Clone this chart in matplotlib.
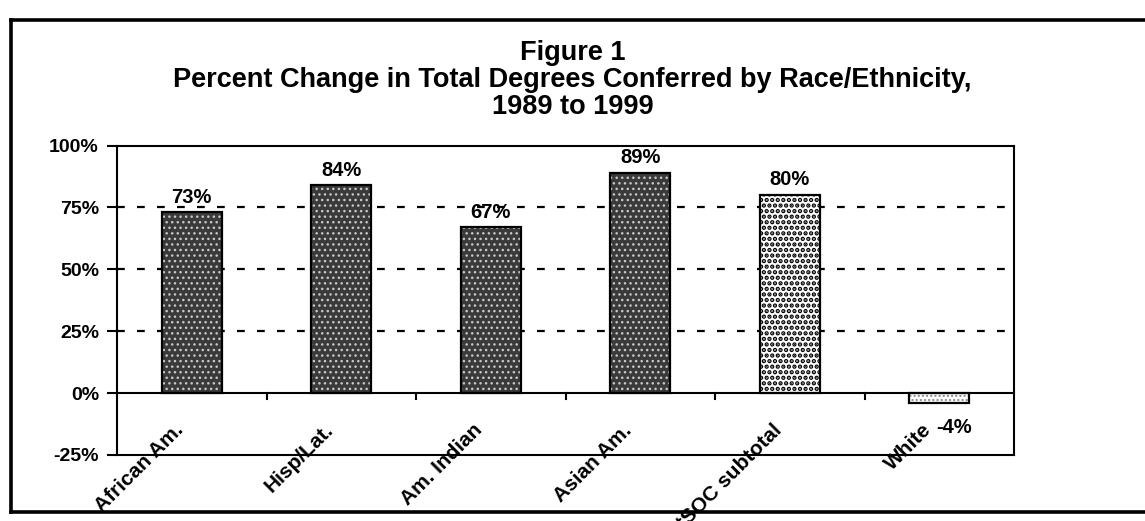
import numpy as np
import matplotlib
matplotlib.use("Agg")
import matplotlib.pyplot as plt
from matplotlib.lines import Line2D

plt.rcParams['font.family'] = ['Liberation Sans', 'DejaVu Sans']
plt.rcParams['font.weight'] = 'bold'
plt.rcParams['hatch.linewidth'] = 1.0

# ---- data ----
categories = ["African Am.", "Hisp/Lat.", "Am. Indian", "Asian Am.", "tSOC subtotal", "White"]
pct_change = [73, 84, 67, 89, 80, -4]
value_labels = ["73%", "84%", "67%", "89%", "80%", "-4%"]
y_ticks = [-25, 0, 25, 50, 75, 100]
y_tick_labels = ["-25%", "0%", "25%", "50%", "75%", "100%"]

# bar styles: face colour, dot colour, dot density, dot line width
bar_face = ["#3a3a3a"] * 4 + ["white", "white"]
bar_dots = ["#c8c8c8"] * 4 + ["black", "#888888"]
bar_hatch = ["..."] * 4 + ["...", "...."]
dot_lw = [1.0] * 4 + [2.2, 1.0]

fig = plt.figure(figsize=(11.45, 5.21), dpi=100)
ax = fig.add_axes([0.1022, 0.1267, 0.7834, 0.594])

x = np.arange(len(categories))
ax.set_xlim(-0.5, len(categories) - 0.5)
ax.set_ylim(-25, 100)

# dashed grid
for g in [25, 50, 75]:
    ax.axhline(g, color="black", lw=1.6, ls=(0, (3.5, 5.5)), zorder=1)

# bars: solid face, dot overlay, outline
ax.bar(x, pct_change, width=0.4, color=bar_face, edgecolor="none", zorder=2)
for xi, v, dc, h, lw in zip(x, pct_change, bar_dots, bar_hatch, dot_lw):
    with plt.rc_context({'hatch.linewidth': lw}):
        ax.bar(xi, v, width=0.4, facecolor="none", edgecolor=dc, hatch=h,
               linewidth=0, zorder=3)
ax.bar(x, pct_change, width=0.4, facecolor="none", edgecolor="black", lw=1.6, zorder=4)

# value labels
for xi, v, lab in zip(x, pct_change, value_labels):
    if v >= 0:
        ax.annotate(lab, (xi, v), xytext=(0, 4), textcoords="offset points",
                    ha="center", va="bottom", fontsize=14.5, fontweight="bold")
    else:
        ax.text(xi + 0.1, -14, lab, ha="center", va="center",
                fontsize=14.5, fontweight="bold")

# zero line with ticks between categories
ax.axhline(0, color="black", lw=1.5, zorder=5)
for b in x[:-1] + 0.5:
    ax.plot([b, b], [0, -2.2], color="black", lw=1.5, zorder=5)

# category labels, rotated
for xi, lab in zip(x, categories):
    ax.text(xi - 0.03, -11, lab, rotation=45, ha="right", va="top",
            fontsize=15, fontweight="bold", clip_on=False)

# axes frame
for s in ax.spines.values():
    s.set_linewidth(1.5)
ax.set_xticks([])
ax.set_yticks(y_ticks)
ax.set_yticklabels(y_tick_labels, fontsize=14, fontweight="bold")
ax.tick_params(axis="y", direction="out", length=7, width=1.5, pad=6)

# titles
cx = 0.1022 + 0.7834 / 2
title_lines = ["Figure 1",
               "Percent Change in Total Degrees Conferred by Race/Ethnicity,",
               "1989 to 1999"]
for line, ypx in zip(title_lines, [53, 80, 107]):
    fig.text(cx + 0.006, 1 - ypx / 521, line, ha="center", va="center",
             fontsize=19.5, fontweight="bold")

# outer box (right side runs off the page)
fx0, fy0, fy1 = 11 / 1145, 1 - 512 / 521, 1 - 20 / 521
for xs, ys in [([fx0, fx0], [fy0, fy1]), ([fx0, 1.0], [fy1, fy1]), ([fx0, 1.0], [fy0, fy0])]:
    fig.add_artist(Line2D(xs, ys, color="black", lw=2.6, transform=fig.transFigure))

fig.savefig("out.png", dpi=100)
